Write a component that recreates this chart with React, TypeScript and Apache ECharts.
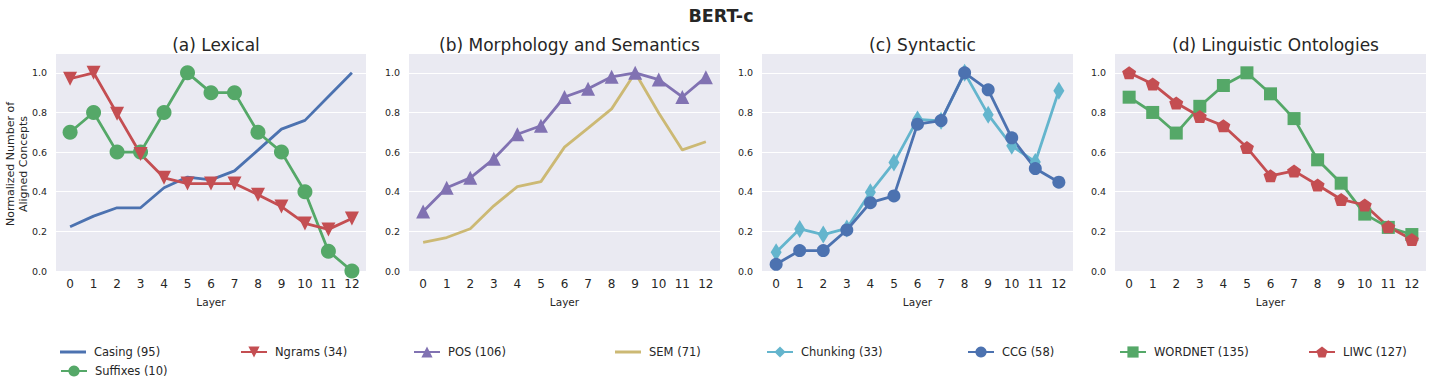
import React, { useEffect, useRef } from "react";
import * as echarts from "echarts";

const layers = [0, 1, 2, 3, 4, 5, 6, 7, 8, 9, 10, 11, 12];
const panelTitles = ["(a) Lexical", "(b) Morphology and Semantics", "(c) Syntactic", "(d) Linguistic Ontologies"];

// (a) Lexical
const casing = [0.223, 0.277, 0.319, 0.319, 0.42, 0.474, 0.46, 0.505, 0.61, 0.716, 0.76, 0.88, 1.0];
const suffixes = [0.7, 0.8, 0.6, 0.6, 0.8, 1.0, 0.9, 0.9, 0.7, 0.6, 0.4, 0.1, 0.0];
const ngrams = [0.97, 1.0, 0.794, 0.59, 0.47, 0.441, 0.441, 0.441, 0.385, 0.325, 0.24, 0.21, 0.265];
// (b) Morphology and Semantics
const pos = [0.3, 0.42, 0.47, 0.566, 0.69, 0.733, 0.878, 0.92, 0.98, 1.0, 0.966, 0.878, 0.978];
const sem = [0.144, 0.169, 0.213, 0.329, 0.426, 0.451, 0.625, 0.721, 0.818, 1.0, 0.797, 0.611, 0.652];
// (c) Syntactic
const chunking = [0.095, 0.212, 0.184, 0.215, 0.397, 0.547, 0.765, 0.758, 1.0, 0.789, 0.632, 0.55, 0.91];
const ccg = [0.034, 0.103, 0.103, 0.207, 0.345, 0.379, 0.741, 0.759, 1.0, 0.914, 0.672, 0.517, 0.448];
// (d) Linguistic Ontologies
const wordnet = [0.877, 0.8, 0.696, 0.831, 0.936, 1.0, 0.894, 0.769, 0.561, 0.443, 0.287, 0.22, 0.184];
const liwc = [1.0, 0.944, 0.848, 0.78, 0.733, 0.623, 0.48, 0.505, 0.434, 0.361, 0.333, 0.223, 0.159];

const C = {
  blue: "#4C72B0",
  green: "#55A868",
  red: "#C44E52",
  purple: "#8172B2",
  yellow: "#CCB974",
  cyan: "#64B5CD",
};
const PENTAGON = "path://M0,-1 L0.951,-0.309 L0.588,0.809 L-0.588,0.809 L-0.951,-0.309 Z";
const LINE_ICON = "path://M0,0 L26,0 L26,3 L0,3 Z";
const TEXT = "#262626";
const FONT = "DejaVu Sans";

const grids = [
  { left: 56, width: 310 },
  { left: 409, width: 311 },
  { left: 762, width: 311 },
  { left: 1115, width: 311 },
];

export default function App() {
  const ref = useRef<HTMLDivElement>(null);
  useEffect(() => {
    if (!ref.current) return;
    const chart = echarts.init(ref.current, undefined, { renderer: "svg" });
    const toData = (vals: number[]) => vals.map((v, i) => [layers[i], v]);
    const mk = (name: string, vals: number[], color: string, idx: number, symbol: string, size: any, rotate = 0) => ({
      name,
      type: "line",
      xAxisIndex: idx,
      yAxisIndex: idx,
      data: toData(vals),
      symbol,
      symbolSize: size,
      symbolRotate: rotate,
      showAllSymbol: true,
      lineStyle: { color, width: 2.8 },
      itemStyle: { color, borderWidth: 0 },
      emphasis: { disabled: true },
    });
    const series = [
      mk("Casing (95)", casing, C.blue, 0, "none", 0),
      mk("Suffixes (10)", suffixes, C.green, 0, "circle", 15),
      mk("Ngrams (34)", ngrams, C.red, 0, "triangle", 14, 180),
      mk("POS (106)", pos, C.purple, 1, "triangle", 14),
      mk("SEM (71)", sem, C.yellow, 1, "none", 0),
      mk("Chunking (33)", chunking, C.cyan, 2, "diamond", [11, 18]),
      mk("CCG (58)", ccg, C.blue, 2, "circle", 13),
      mk("WORDNET (135)", wordnet, C.green, 3, "rect", 13),
      mk("LIWC (127)", liwc, C.red, 3, PENTAGON, [14, 13]),
    ];
    const legendPos: [string, number, number, boolean][] = [
      ["Casing (95)", 60, 353, true],
      ["Suffixes (10)", 60, 372, false],
      ["Ngrams (34)", 240, 353, false],
      ["POS (106)", 413, 353, false],
      ["SEM (71)", 615, 353, true],
      ["Chunking (33)", 766, 353, false],
      ["CCG (58)", 967, 353, false],
      ["WORDNET (135)", 1119, 353, false],
      ["LIWC (127)", 1308, 353, false],
    ];
    const option: any = {
      animation: false,
      backgroundColor: "#fff",
      textStyle: { fontFamily: FONT },
      title: [
        {
          text: "BERT-c",
          left: 716,
          top: 2,
          textAlign: "center",
          textStyle: { fontSize: 17.5, fontWeight: "bold", color: TEXT, fontFamily: FONT },
        },
        ...panelTitles.map((t, i) => ({
          text: t,
          left: grids[i].left + grids[i].width / 2,
          top: 31,
          textAlign: "center",
          textStyle: { fontSize: 17, fontWeight: "normal", color: TEXT, fontFamily: FONT },
        })),
      ],
      grid: grids.map((g) => ({
        left: g.left,
        width: g.width,
        top: 53,
        height: 218,
        show: true,
        backgroundColor: "#EAEAF2",
        borderWidth: 0,
      })),
      xAxis: grids.map((_, i) => ({
        type: "value",
        gridIndex: i,
        min: -0.6,
        max: 12.6,
        name: "Layer",
        nameLocation: "middle",
        nameGap: 25,
        nameTextStyle: { fontSize: 10.5, color: TEXT, fontFamily: FONT },
        axisLine: { show: false },
        axisTick: { show: false },
        splitLine: { show: false },
        axisLabel: {
          customValues: layers,
          fontSize: 12,
          color: TEXT,
          margin: 7,
          fontFamily: FONT,
          formatter: (v: number) => String(v),
        },
      })),
      yAxis: grids.map((_, i) => ({
        type: "value",
        gridIndex: i,
        min: 0,
        max: 1.1,
        interval: 0.2,
        axisLine: { show: false },
        axisTick: { show: false },
        splitLine: { show: true, lineStyle: { color: "#fff", width: 1.2 } },
        axisLabel: {
          fontSize: 9.5,
          color: TEXT,
          margin: 9,
          fontFamily: FONT,
          formatter: (v: number) => (v > 1.05 ? "" : v.toFixed(1)),
        },
      })),
      legend: legendPos.map(([name, left, cy, lineOnly]) => ({
        data: lineOnly ? [{ name, icon: LINE_ICON }] : [name],
        left,
        top: cy - 7,
        padding: 0,
        itemWidth: 26,
        itemHeight: 14,
        symbolKeepAspect: true,
        selectedMode: false,
        textStyle: { fontSize: 11.5, color: TEXT, fontFamily: FONT, padding: [0, 0, 0, 3] },
      })),
      graphic: [
        {
          type: "text",
          x: 17,
          y: 164,
          rotation: Math.PI / 2,
          style: {
            text: "Normalized Number of\nAligned Concepts",
            fontSize: 11,
            lineHeight: 13,
            fill: TEXT,
            fontFamily: FONT,
            textAlign: "center",
            textVerticalAlign: "middle",
          },
        },
      ],
      series,
    };
    chart.setOption(option);
    return () => chart.dispose();
  }, []);
  return <div ref={ref} style={{ position: "fixed", left: 0, top: 0, width: 1432, height: 391 }} />;
}
